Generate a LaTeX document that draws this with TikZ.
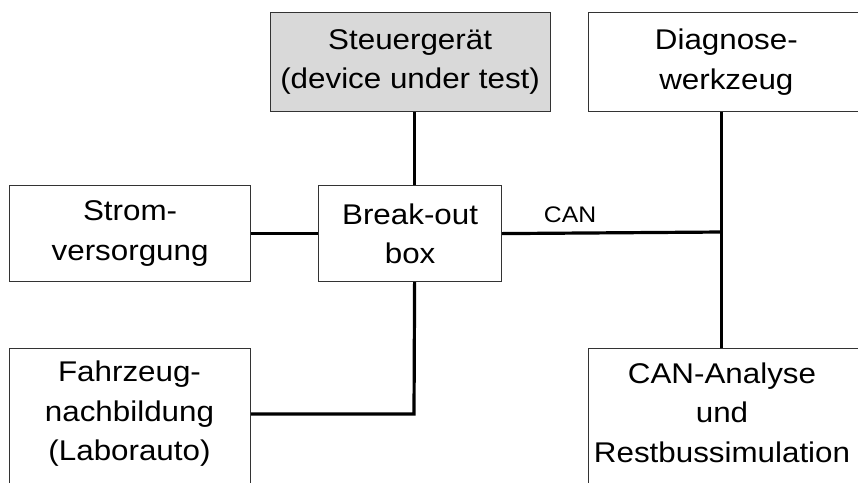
\documentclass[tikz,border=0pt]{standalone}
\usepackage{fontspec}
\setmainfont{Liberation Sans}[FakeStretch=1.1]
\usetikzlibrary{calc}
\definecolor{boxgray}{HTML}{D9D9D9}
\definecolor{edgegray}{HTML}{333333}
\tikzset{
  box/.style={draw=edgegray, line width=1.2pt, rectangle, anchor=north west, inner sep=0pt},
  boxtext/.style={align=center, inner sep=0pt, font=\fontsize{28.5}{39.5}\selectfont},
  wire/.style={line width=3.2pt, line cap=butt}
}
\begin{document}
\begin{tikzpicture}[x=1pt,y=-1pt]
\useasboundingbox (0,0) rectangle (858,482);
% boxes
\node[box, fill=boxgray, minimum width=280pt, minimum height=99pt] (steu) at (269.5,12) {};
\node[boxtext] (steut) at (steu.center) {Steuergerät\\(device under test)};
\node[box, minimum width=269.5pt, minimum height=99pt] (diag) at (588,12) {};
\node[boxtext] (diagt) at ($(diag.center)+(3,0)$) {Diagnose-\\werkzeug};
\node[box, minimum width=241pt, minimum height=96pt] (strom) at (9,185) {};
\node[boxtext] (stromt) at (strom.center) {Strom-\\versorgung};
\node[box, minimum width=183pt, minimum height=96pt] (brk) at (318,185) {};
\node[boxtext] (brkt) at (brk.center) {Break-out\\box};
\node[box, minimum width=241pt, minimum height=160pt] (fahr) at (9,348) {};
\node[boxtext] (fahrt) at (129.5,414) {Fahrzeug-\\nachbildung\\(Laborauto)};
\node[box, minimum width=269.5pt, minimum height=160pt] (can) at (588,348) {};
\node[boxtext] (cant) at (722,412.5) {CAN-Analyse\\und\\Restbussimulation};
% junctions
\coordinate (j) at (722.5,232);
\coordinate (k) at (414,414);
% wires
\draw[wire] ($(steu.south)+(4.5,0)$) -- ($(brk.north)+(4.5,0)$);
\draw[wire] (strom.east) -- (brk.west);
\draw[wire] (brk.east) -- (j);
\draw[wire] ($(diag.south)+(-2.25,0)$) -- ($(can.north)+(-2.25,0)$);
\draw[wire] ($(brk.south)+(4.5,0)$) -- (k) -- (fahr.east |- k);
\node[font=\fontsize{22.5}{26}\selectfont, anchor=base] (canlbl) at (570,222) {CAN};
\end{tikzpicture}
\end{document}
